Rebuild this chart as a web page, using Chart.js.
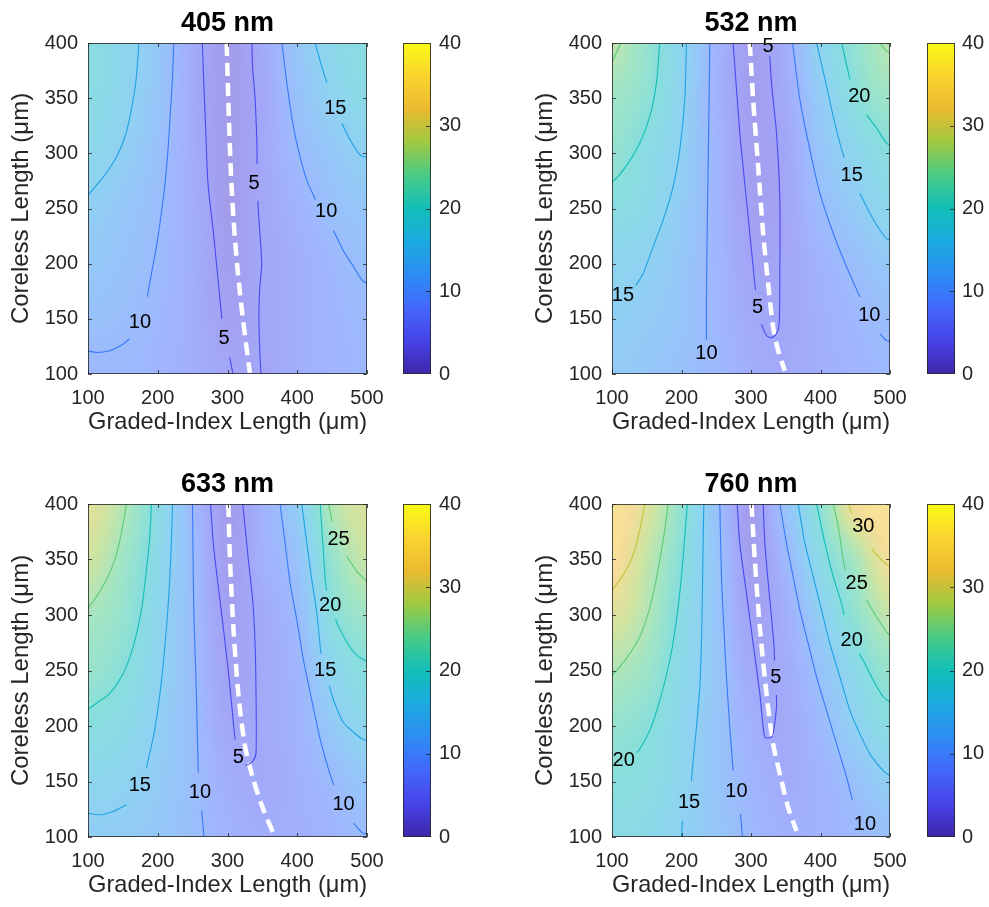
<!DOCTYPE html>
<html><head><meta charset="utf-8">
<script src="https://cdn.jsdelivr.net/npm/chart.js@4.4.0/dist/chart.umd.min.js"></script>
<style>
html,body{margin:0;padding:0;background:#fff;}
#wrap{position:relative;width:989px;height:907px;overflow:hidden;background:#fff;}
canvas{position:absolute;}
</style></head><body>
<div id="wrap">
<canvas id="c0" width="524" height="461" style="left:0;top:0;width:524px;height:461px"></canvas>
<canvas id="c1" width="465" height="461" style="left:524px;top:0;width:465px;height:461px"></canvas>
<canvas id="c2" width="524" height="446" style="left:0;top:461px;width:524px;height:446px"></canvas>
<canvas id="c3" width="465" height="446" style="left:524px;top:461px;width:465px;height:446px"></canvas>
</div>
<script>
// ---------------- DATA ----------------
const titles = ['405 nm', '532 nm', '633 nm', '760 nm'];
const xLabel = 'Graded-Index Length (μm)';
const yLabel = 'Coreless Length (μm)';
const xTicks = [100, 200, 300, 400, 500];
const yTicks = [100, 150, 200, 250, 300, 350, 400];
const cbTicks = [0, 10, 20, 30, 40];
const cbRange = [0, 40];

// sampled field (rows: coreless length 100..400, columns: graded-index length 100..500)
const xGrid = [100, 150, 200, 250, 300, 350, 400, 450, 500];
const yGrid = [100, 150, 200, 250, 300, 350, 400];

const grid405 = [
  [9.0, 9.2, 8.5, 7.0, 5.3, 5.0, 7.0, 8.3, 9.0],
  [11.2, 10.5, 9.0, 7.0, 4.0, 5.2, 7.0, 8.5, 9.5],
  [12.8, 11.5, 9.8, 7.0, 3.5, 5.0, 7.0, 9.0, 11.0],
  [14.5, 12.5, 10.3, 6.8, 3.0, 5.3, 8.0, 10.8, 12.5],
  [17.0, 14.5, 11.0, 6.5, 3.0, 5.5, 9.7, 12.5, 15.0],
  [18.5, 16.0, 12.0, 6.3, 3.0, 5.5, 11.0, 15.3, 18.0],
  [19.0, 16.5, 12.5, 6.5, 3.0, 6.0, 12.0, 17.0, 19.0]
];
const grid532 = [
  [13.5, 12.5, 11.0, 9.3, 6.8, 6.0, 7.0, 8.3, 9.2],
  [14.6, 13.5, 12.0, 9.0, 6.0, 5.5, 7.3, 9.0, 10.6],
  [16.0, 15.0, 12.5, 8.8, 4.8, 5.2, 8.0, 10.5, 13.0],
  [19.0, 17.5, 13.5, 8.5, 4.0, 5.1, 10.0, 13.5, 16.8],
  [22.0, 18.5, 14.8, 8.5, 3.8, 5.4, 11.8, 16.2, 19.5],
  [23.5, 21.0, 15.5, 8.0, 3.5, 6.2, 13.5, 19.8, 23.5],
  [26.5, 22.0, 16.0, 8.3, 3.5, 7.0, 15.8, 21.5, 26.0]
];
const grid633 = [
  [14.0, 13.7, 12.5, 10.6, 8.0, 6.8, 7.2, 8.5, 10.0],
  [16.5, 15.7, 13.5, 10.5, 7.0, 6.0, 7.5, 9.8, 12.5],
  [19.5, 18.0, 14.5, 10.5, 5.5, 6.0, 8.0, 13.0, 17.0],
  [22.5, 20.2, 15.7, 10.3, 4.6, 6.0, 8.5, 16.0, 19.7],
  [24.5, 22.0, 16.5, 10.0, 4.0, 6.0, 10.0, 19.5, 23.5],
  [28.0, 23.5, 17.5, 10.0, 3.5, 7.5, 11.5, 22.0, 27.5],
  [30.0, 25.7, 18.5, 9.5, 3.0, 7.7, 14.0, 25.5, 29.0]
];
const grid760 = [
  [18.5, 17.5, 15.0, 12.3, 9.3, 7.5, 8.0, 9.3, 10.7],
  [19.8, 19.0, 16.0, 12.0, 8.5, 6.5, 8.0, 11.0, 14.7],
  [22.0, 20.3, 16.5, 12.0, 7.5, 6.0, 9.5, 15.0, 19.0],
  [25.3, 23.0, 17.5, 12.3, 6.0, 6.5, 11.5, 17.5, 22.5],
  [29.5, 25.5, 18.5, 12.0, 4.5, 7.0, 14.5, 21.5, 27.0],
  [33.0, 27.0, 20.0, 12.0, 3.5, 9.0, 18.0, 24.5, 32.0],
  [34.0, 29.5, 21.5, 11.0, 3.0, 11.5, 21.0, 32.0, 34.0]
];

// contour lines (level, [x, y] points; null = gap left for a label)
const lines405 = [
  {level: 15, pts: [[100,262],[112,271],[126,282],[141,297],[153,315],[162,339],[169,367],[173,400]]},
  {level: 10, pts: [[100,121],[112,119.5],[131,121],[150,127],[160,132],null,[185,170],[191,191],[198,215],[205,245],[211,276],[215,306],[218,336],[221,367],[223,400]]},
  {level: 5, pts: [[264,400],[266,364],[269,318],[272,273],[280,227],[287,182],[292,150],null,[303,115],[308,100]]},
  {level: 5, pts: [[335,400],[336,378],[339.5,350],[342,312],[342.5,290],null,[343.5,257],[344.5,245],[349,200],[346,176],[345,148],[346.5,118],[348,100]]},
  {level: 10, pts: [[378,400],[385,364],[394.5,324],[404,297],[413.5,276],[426,258],null,[452,230],[466,212],[481,197],[493,185],[500,182]]},
  {level: 15, pts: [[425.7,400],[435,379],[442.5,364],null,[464,327],[476,312],[488,300],[495,297],[500,297]]}
];
const lines532 = [
  {level: 25, pts: [[100,382],[106,391],[113,400]]},
  {level: 20, pts: [[168.7,400],[163.9,363.6],[154.3,333.3],[139.9,309.1],[123,290.9],[108.6,278.8],[100,274.3]]},
  {level: 15, pts: [[207.1,400],[204.7,348.5],[197.5,303],[187.9,269.7],[173.5,239.4],[159.1,215.2],[144.7,190.9],[134,180]]},
  {level: 10, pts: [[240.7,400],[239.7,348.5],[238.3,287.9],[236.9,227.3],[235.9,166.7],[235.9,131]]},
  {level: 5, pts: [[274.3,400],[283.9,318.2],[293.5,257.6],[303.1,197],[306.5,176],null,[315,145],[322.3,134.9],[329.5,132.8],[336.7,136.4],[340.6,145.5],[341.5,197],[341.5,257.6],[336.7,318.2],[329.5,363.6],[327,388]]},
  {level: 10, pts: [[359.8,400],[370.4,348.5],[384.8,303],[399.2,263.7],[418.4,227.3],[437.6,197],[456.8,169.7],null,[485.6,136.4],[495.2,130.3],[500,129.7]]},
  {level: 15, pts: [[394.4,400],[408.8,360.6],[418.4,333.3],[428,309.1],[434,296],null,[456.8,263.7],[471.2,245.5],[485.6,230.3],[495.2,222.7],[500,221.8]]},
  {level: 20, pts: [[430.4,400],[442.4,366.7],null,[466.4,334.9],[480.8,322.7],[495.2,309.1],[500,307.6]]},
  {level: 25, pts: [[485.6,400],[492.8,394],[500,390.3]]}
];
const lines633 = [
  {level: 25, pts: [[100,305.9],[112,316.5],[126.3,331.6],[138.3,349.6],[147.9,373.8],[155.1,400]]},
  {level: 20, pts: [[100,214.9],[114.4,221.5],[131.1,229.1],[150.3,247.1],[164.7,271.3],[176.6,304.4],[183.8,340.6],[188.6,370.8],[191,400]]},
  {level: 15, pts: [[100,121.5],[116.8,120],[135.9,123],[155.1,129.1],null,[183.8,162.2],[195.8,196.9],[205.4,241.1],[212.6,289.3],[217.4,334.6],[219.8,370.8],[221.2,400]]},
  {level: 10, pts: [[249.9,400],[250.9,334.6],[252.3,289.3],[254.7,244.1],[256.6,196.9],[258.1,158],null,[263,124],[263.8,118.5],[266.2,100]]},
  {level: 5, pts: [[275.8,400],[279.6,364.7],[286.8,325.5],[295,283.3],[302.6,241.1],[308.4,202.9],[310.8,187.9],null,[326,165],[329.9,165.2],[337.1,168.9],[340.9,175.8],[340.9,229.1],[339.5,274.3],[336.1,313.5],[329.9,349.6],[325.1,379.8],[321.8,400]]},
  {level: 10, pts: [[375.4,400],[382.6,364.7],[389.8,328.5],[399.4,295.4],[409,259.2],[420.9,223],[432.9,187.9],[444.9,160.7],[452,147],null,[480.8,112.5],[492.8,104],[500,102.8]]},
  {level: 15, pts: [[406.6,400],[413.7,364.7],[420.9,331.6],[428.1,301.4],[433.9,265],null,[446,236],[452.1,223],[466.4,202.9],[480.8,194.4],[492.8,188.4],[500,186.8]]},
  {level: 20, pts: [[432.9,400],[436.7,364.7],[440.1,331.6],[442,322],null,[455,296],[459.3,289.3],[473.6,272.8],[488,262.2],[500,258.3]]},
  {level: 25, pts: [[444.9,400],[449.7,384.3],null,[471.2,352.7],[485.6,339.1],[500,330]]}
];
const lines760 = [
  {level: 30, pts: [[100,322.3],[111,331.3],[123,343.4],[132.7,358.4],[139.9,376.5],[147.1,400]]},
  {level: 25, pts: [[100,245.5],[111,253],[125.5,265.1],[139.9,280.1],[151.9,301.2],[161.5,325.3],[168.7,349.4],[175.9,376.5],[180.7,400]]},
  {level: 20, pts: [[136,176],[139.9,179.2],[154.3,195.8],[168.7,223.1],[183.1,259],[192.7,295.2],[199.9,334.3],[204.7,370.5],[208.5,400]]},
  {level: 15, pts: [[199.9,100],[201.3,114.5],null,[214.3,150.6],[216.7,168.7],[221.5,198.8],[226.3,235],[228.7,274.1],[230.1,319.3],[231.1,364.5],[232.1,400]]},
  {level: 10, pts: [[255.1,400],[257.5,334.3],[260.9,289.2],[264.7,244],[269.5,198.8],[274.3,159.6],null,[284.9,120.5],[287.8,100]]},
  {level: 5, pts: [[280.1,400],[283.9,364.5],[293.5,319.3],[303.1,274.1],[312.7,229],[317.5,198.8],[319.9,189.8],[322.3,189.2],[329.5,189.8],[331.9,192.8],[336.7,216.9],[336.5,228],null,[334,259],[332.9,274.1],[326.2,319.3],[319.9,364.5],[317.5,400]]},
  {level: 10, pts: [[341.5,400],[351.1,364.5],[360.7,334.3],[370.4,304.2],[382.4,274.1],[394.4,244],[408.8,213.9],[423.2,183.7],[437.6,153.6],[446,133]]},
  {level: 15, pts: [[367.9,400],[377.6,364.5],[389.6,334.3],[401.6,304.2],[413.6,274.1],[428,244],[442.4,213.9],[456.8,192.8],[471.2,174.7],[490.4,159.6],[500,155.1]]},
  {level: 20, pts: [[394.4,400],[406.4,364.5],[418.4,334.3],[430.4,310.2],[434,300],null,[456,265],[461.6,259],[476,241],[490.4,226.1],[500,221.6]]},
  {level: 25, pts: [[418.4,400],[425.6,379.5],[432.8,349.4],[436,340],null,[466.4,313.3],[480.8,298.2],[495.2,284.6],[500,281.6]]},
  {level: 30, pts: [[440,400],[444.8,391.6],null,[473.6,359.9],[488,349.4],[500,343.4]]}
];

// contour labels [x, y, text]
const labels405 = [[454.5,341,'15'],[338,273,'5'],[441.5,247,'10'],[174.5,147,'10'],[295,132,'5']];
const labels532 = [[324.7,397,'5'],[455.8,351.5,'20'],[444.8,280.3,'15'],[115.8,171.3,'15'],[309.4,160.6,'5'],[470.2,153.1,'10'],[235.9,118.2,'10']];
const labels633 = [[459.3,367.7,'25'],[447.3,308.9,'20'],[440.1,250.2,'15'],[315.6,171.8,'5'],[174.2,146.1,'15'],[260.5,140,'10'],[466.4,129.1,'10']];
const labels760 = [[461.6,379.5,'30'],[452,328.3,'25'],[444.8,277.1,'20'],[335.8,244,'5'],[116.8,169.3,'20'],[210.9,131,'15'],[279.1,141,'10'],[464,111.5,'10']];

// white dashed optimum curves
const ridge405 = [[298.8,400],[301.2,348.5],[304.5,288],[308.4,242.4],[314.1,197],[321.8,151.5],[332,101]];
const ridge532 = [[298.3,400],[303.1,348.5],[310.3,287.9],[317.5,227.3],[324.7,181.8],[331.9,142.4],[339.1,121.2],[348.7,103]];
const ridge633 = [[301.2,400],[303.6,349.6],[308.4,289.3],[315.6,229.1],[325.1,181.8],[337.1,151.7],[351.5,124.6],[368.2,100]];
const ridge760 = [[300.7,400],[305.5,349.4],[312.7,289.2],[322.3,229],[331.9,183.7],[343.9,150.6],[353.5,126.5],[365.5,105.4]];

// ---------------- STYLE / LAYOUT ----------------
const FONT = '"Liberation Sans", Arial, Helvetica, sans-serif';
const TXT = '#262626';
const HEAT_ALPHA = 0.5;
// parula colormap anchors (t = 0, 0.1, ..., 1)
const PARULA = [
  [0.2422,0.1504,0.6603],[0.279,0.263,0.906],[0.264,0.403,0.993],[0.177,0.548,0.954],
  [0.108,0.667,0.873],[0.070,0.746,0.726],[0.282,0.796,0.526],[0.623,0.787,0.257],
  [0.918,0.731,0.190],[0.982,0.831,0.180],[0.9769,0.9839,0.0805]
];
function parula(t) {
  t = Math.max(0, Math.min(1, t));
  const f = t * (PARULA.length - 1);
  const i = Math.min(PARULA.length - 2, Math.floor(f));
  const u = f - i;
  const a = PARULA[i], b = PARULA[i + 1];
  return [a[0] + (b[0] - a[0]) * u, a[1] + (b[1] - a[1]) * u, a[2] + (b[2] - a[2]) * u];
}
function css(c) { return 'rgb(' + Math.round(c[0]*255) + ',' + Math.round(c[1]*255) + ',' + Math.round(c[2]*255) + ')'; }

function cr(p0, p1, p2, p3, t) {
  return p1 + 0.5 * t * (p2 - p0 + t * (2*p0 - 5*p1 + 4*p2 - p3 + t * (3*(p1 - p2) + p3 - p0)));
}
function sampleGrid(g, xv, yv) {
  const nx = xGrid.length, ny = yGrid.length;
  const fx = (xv - xGrid[0]) / (xGrid[1] - xGrid[0]);
  const fy = (yv - yGrid[0]) / (yGrid[1] - yGrid[0]);
  const ix = Math.floor(fx), iy = Math.floor(fy);
  const tx = fx - ix, ty = fy - iy;
  const get = (r, c) => g[Math.max(0, Math.min(ny - 1, r))][Math.max(0, Math.min(nx - 1, c))];
  const rows = [];
  for (let m = -1; m <= 2; m++) rows.push(cr(get(iy+m, ix-1), get(iy+m, ix), get(iy+m, ix+1), get(iy+m, ix+2), tx));
  return cr(rows[0], rows[1], rows[2], rows[3], ty);
}

const layouts = [
  {w: 524, h: 461, right: 367, bottom: 374, cbOff: 36, titlePadB: 24.6},
  {w: 465, h: 461, right: 366, bottom: 374, cbOff: 37, titlePadB: 24.6},
  {w: 524, h: 446, right: 367, bottom: 376, cbOff: 36, titlePadB: 7.6},
  {w: 465, h: 446, right: 366, bottom: 376, cbOff: 37, titlePadB: 7.6}
];
const PLOT_TOP = 43, PLOT_LEFT = 88;
const panels = [
  {title: titles[0], grid: grid405, lines: lines405, labels: labels405, ridge: ridge405},
  {title: titles[1], grid: grid532, lines: lines532, labels: labels532, ridge: ridge532},
  {title: titles[2], grid: grid633, lines: lines633, labels: labels633, ridge: ridge633},
  {title: titles[3], grid: grid760, lines: lines760, labels: labels760, ridge: ridge760}
];

function splitSegments(pts) {
  const segs = []; let cur = [];
  pts.forEach(p => { if (p === null) { if (cur.length) segs.push(cur); cur = []; } else cur.push({x: p[0], y: p[1]}); });
  if (cur.length) segs.push(cur);
  return segs;
}

function panelPlugin(P, L) {
  return {
    id: 'panelDecor',
    beforeDatasetsDraw(chart) {
      const {ctx, chartArea: a, scales: {x, y}} = chart;
      const l = Math.round(a.left), t = Math.round(a.top);
      const W = Math.round(a.right) - l, H = Math.round(a.bottom) - t;
      const off = document.createElement('canvas');
      off.width = W; off.height = H;
      const octx = off.getContext('2d');
      const img = octx.createImageData(W, H);
      let k = 0;
      for (let j = 0; j < H; j++) {
        const yv = y.getValueForPixel(t + j + 0.5);
        for (let i = 0; i < W; i++) {
          const xv = x.getValueForPixel(l + i + 0.5);
          const v = sampleGrid(P.grid, xv, yv);
          const c = parula((v - cbRange[0]) / (cbRange[1] - cbRange[0]));
          img.data[k++] = Math.round(255 * (1 - HEAT_ALPHA * (1 - c[0])));
          img.data[k++] = Math.round(255 * (1 - HEAT_ALPHA * (1 - c[1])));
          img.data[k++] = Math.round(255 * (1 - HEAT_ALPHA * (1 - c[2])));
          img.data[k++] = 255;
        }
      }
      octx.putImageData(img, 0, 0);
      ctx.drawImage(off, l, t);
    },
    afterDatasetsDraw(chart) {
      const {ctx, chartArea: a, scales: {x, y, cb}} = chart;
      ctx.save();
      // contour labels
      ctx.fillStyle = '#000';
      ctx.font = '20px ' + FONT;
      ctx.textAlign = 'center';
      ctx.textBaseline = 'middle';
      P.labels.forEach(lb => ctx.fillText(lb[2], x.getPixelForValue(lb[0]), y.getPixelForValue(lb[1])));
      // panel title
      ctx.fillStyle = '#000';
      ctx.font = 'bold 27px ' + FONT;
      ctx.fillText(P.title, (a.left + a.right) / 2, 24);
      // axes box
      ctx.strokeStyle = 'rgba(38,38,38,0.8)';
      ctx.lineWidth = 1;
      const l = Math.round(a.left), t = Math.round(a.top), r = Math.round(a.right), b = Math.round(a.bottom);
      ctx.strokeRect(l + 0.5, t + 0.5, r - l - 1, b - t - 1);
      // inward tick marks
      ctx.beginPath();
      const TL = 4;
      xTicks.forEach(v => { const px = Math.round(x.getPixelForValue(v)) + 0.5; ctx.moveTo(px, b); ctx.lineTo(px, b - TL); ctx.moveTo(px, t); ctx.lineTo(px, t + TL); });
      yTicks.forEach(v => { const py = Math.round(y.getPixelForValue(v)) + 0.5; ctx.moveTo(l, py); ctx.lineTo(l + TL, py); ctx.moveTo(r, py); ctx.lineTo(r - TL, py); });
      ctx.stroke();
      // colorbar
      const cx = r + L.cbOff, cw = 28;
      const y0 = Math.round(cb.getPixelForValue(cbRange[0])), y1 = Math.round(cb.getPixelForValue(cbRange[1]));
      const g = ctx.createLinearGradient(0, y0, 0, y1);
      PARULA.forEach((c, i) => g.addColorStop(i / (PARULA.length - 1), css(c)));
      ctx.fillStyle = g;
      ctx.fillRect(cx, y1, cw, y0 - y1);
      ctx.strokeStyle = 'rgba(38,38,38,0.85)';
      ctx.strokeRect(cx + 0.5, y1 + 0.5, cw - 1, y0 - y1 - 1);
      ctx.beginPath();
      cbTicks.forEach(v => { if (v === cbRange[0] || v === cbRange[1]) return; const py = Math.round(cb.getPixelForValue(v)) + 0.5; ctx.moveTo(cx + cw - 1, py); ctx.lineTo(cx + cw - 1 - TL, py); });
      ctx.stroke();
      ctx.restore();
    }
  };
}

Chart.defaults.font.family = FONT;
Chart.defaults.color = TXT;

panels.forEach((P, idx) => {
  const L = layouts[idx];
  const datasets = [];
  P.lines.forEach(line => {
    splitSegments(line.pts).forEach(seg => datasets.push({
      data: seg, showLine: true, borderColor: css(parula(line.level / cbRange[1])), borderWidth: 1.1,
      pointRadius: 0, pointHoverRadius: 0, tension: 0.25, fill: false
    }));
  });
  datasets.push({
    data: splitSegments(P.ridge)[0], showLine: true, borderColor: '#ffffff', borderWidth: 4.5,
    borderDash: [13, 7], pointRadius: 0, pointHoverRadius: 0, tension: 0.3, fill: false
  });
  const axisCommon = {grid: {display: false, drawTicks: false}, border: {display: false}};
  const noPad = s => { s.paddingTop = 0; s.paddingBottom = 0; s.paddingLeft = 0; s.paddingRight = 0; };
  new Chart(document.getElementById('c' + idx), {
    type: 'scatter',
    data: {datasets},
    options: {
      responsive: false, animation: false, devicePixelRatio: 1, events: [],
      layout: {padding: {top: PLOT_TOP, left: 0, right: 0, bottom: 0}},
      plugins: {legend: {display: false}, tooltip: {enabled: false}, title: {display: false}},
      scales: {
        x: Object.assign({}, axisCommon, {
          type: 'linear', position: 'bottom', min: 100, max: 500,
          afterBuildTicks: s => { s.ticks = xTicks.map(v => ({value: v})); },
          ticks: {padding: 12, color: TXT, font: {size: 20}, maxRotation: 0, autoSkip: false},
          title: {display: true, text: xLabel, color: TXT, font: {size: 24, lineHeight: 1.2}, padding: {top: 0, bottom: L.titlePadB}},
          afterFit: s => { s.height = L.h - L.bottom; noPad(s); }
        }),
        y: Object.assign({}, axisCommon, {
          type: 'linear', position: 'left', min: 100, max: 400,
          afterBuildTicks: s => { s.ticks = yTicks.map(v => ({value: v})); },
          ticks: {padding: 10, color: TXT, font: {size: 20}, autoSkip: false},
          title: {display: true, text: yLabel, color: TXT, font: {size: 24, lineHeight: 1.2}, padding: {top: 7, bottom: 0}},
          afterFit: s => { s.width = PLOT_LEFT; noPad(s); }
        }),
        cb: Object.assign({}, axisCommon, {
          type: 'linear', position: 'right', min: cbRange[0], max: cbRange[1],
          afterBuildTicks: s => { s.ticks = cbTicks.map(v => ({value: v})); },
          ticks: {padding: 72, color: TXT, font: {size: 20}, autoSkip: false},
          afterFit: s => { s.width = L.w - L.right; noPad(s); }
        })
      }
    },
    plugins: [panelPlugin(P, L)]
  });
});
</script>
</body></html>
